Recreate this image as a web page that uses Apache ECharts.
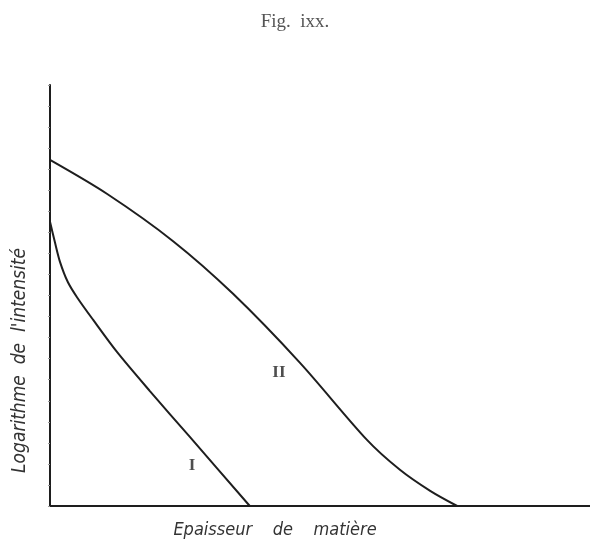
<!DOCTYPE html>
<html>
<head>
<meta charset="utf-8">
<script src="https://cdn.jsdelivr.net/npm/echarts@6/dist/echarts.min.js"></script>
<style>
html, body { margin: 0; padding: 0; background: #fff; }
#chart { width: 590px; height: 551px; }
</style>
</head>
<body>
<div id="chart"></div>
<script>
// courbe I : [épaisseur, log intensité]
var curveI = [[0, 67.5], [0.9, 62.7], [1.85, 58], [3.3, 53.2], [5, 49.6], [8, 44.2], [12.4, 36.6], [18.5, 27.3], [25.9, 16.4], [37, 0]];
// courbe II
var curveII = [[0, 82.2], [10.6, 74.1], [22.8, 62.9], [33.9, 50.4], [46.3, 34], [58.7, 15.7], [64.8, 8.6], [70.4, 3.6], [75.4, 0]];
// repères des courbes
var curveNames = ['I', 'II'];
var namePos = [[26.3, 9.7], [42.4, 31.6]];

var chart = echarts.init(document.getElementById('chart'));
var ink = '#1e1e1e';

chart.setOption({
	backgroundColor: '#fff',
	animation: false,
	title: {
		text: 'Fig.  ixx.',
		left: 'center',
		top: 8,
		textStyle: {
			fontFamily: 'Liberation Serif',
			fontSize: 19,
			fontWeight: 'normal',
			color: '#555'
		}
	},
	grid: {
		left: 50,
		right: 0,
		top: 85,
		bottom: 45
	},
	xAxis: {
		type: 'value',
		min: 0,
		max: 100,
		name: 'Epaisseur    de    matière',
		nameLocation: 'middle',
		nameGap: 15,
		nameTextStyle: {
			fontFamily: 'DejaVu Sans Condensed',
			fontStyle: 'italic',
			fontSize: 18,
			color: '#333',
			padding: [0, 90, 0, 0]
		},
		axisLine: { lineStyle: { color: ink, width: 2 } },
		axisTick: { show: false },
		axisLabel: { show: false },
		splitLine: { show: false }
	},
	yAxis: {
		type: 'value',
		min: 0,
		max: 100,
		interval: 5,
		name: 'Logarithme  de  l\'intensité',
		nameLocation: 'middle',
		nameGap: 20,
		nameTextStyle: {
			fontFamily: 'DejaVu Sans Condensed',
			fontStyle: 'italic',
			fontSize: 19,
			color: '#333',
			padding: [0, 130, 0, 0]
		},
		axisLine: { lineStyle: { color: ink, width: 2 } },
		axisTick: { show: true, length: 2, lineStyle: { color: '#999', width: 1 } },
		axisLabel: { show: false },
		splitLine: { show: false }
	},
	series: [{
		type: 'line',
		name: 'I',
		data: curveI,
		smooth: 0.3,
		symbol: 'none',
		lineStyle: { color: ink, width: 2 }
	}, {
		type: 'line',
		name: 'II',
		data: curveII,
		smooth: 0.3,
		symbol: 'none',
		lineStyle: { color: ink, width: 2 }
	}, {
		type: 'scatter',
		symbolSize: 0,
		data: namePos.map(function(p, i) {
			return { value: p, name: curveNames[i] };
		}),
		label: {
			show: true,
			position: 'inside',
			formatter: '{b}',
			fontFamily: 'Liberation Serif',
			fontWeight: 'bold',
			fontSize: 17,
			color: '#222'
		}
	}]
});
</script>
</body>
</html>
